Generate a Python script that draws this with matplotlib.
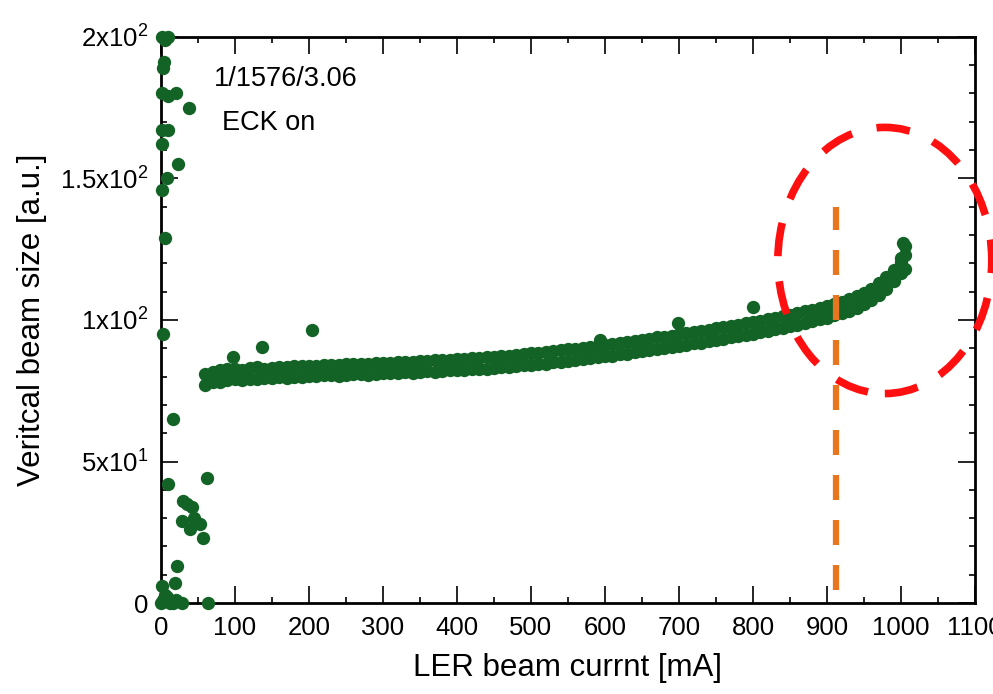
import matplotlib
matplotlib.use("Agg")
import matplotlib.pyplot as plt
from matplotlib.patches import Ellipse
from matplotlib.ticker import MultipleLocator, FixedLocator

plt.rcParams['font.family'] = ['Liberation Sans', 'DejaVu Sans']
plt.rcParams['mathtext.fontset'] = 'custom'
plt.rcParams['mathtext.rm'] = 'Liberation Sans'
plt.rcParams['mathtext.it'] = 'Liberation Sans:italic'

# main band of the beam size vs current (every 10 mA)
band_x = [60, 70, 80, 90, 100, 110, 120, 130, 140, 150,
          160, 170, 180, 190, 200, 210, 220, 230, 240, 250,
          260, 270, 280, 290, 300, 310, 320, 330, 340, 350,
          360, 370, 380, 390, 400, 410, 420, 430, 440, 450,
          460, 470, 480, 490, 500, 510, 520, 530, 540, 550,
          560, 570, 580, 590, 600, 610, 620, 630, 640, 650,
          660, 670, 680, 690, 700, 710, 720, 730, 740, 750,
          760, 770, 780, 790, 800, 810, 820, 830, 840, 850,
          860, 870, 880, 890, 900, 910, 920, 930, 940, 950,
          960, 970, 980, 990, 1000]
band_lo = [77.0, 78.0, 78.2, 78.8, 79.0, 78.9, 79.3, 79.0, 79.4, 79.6,
           79.7, 79.5, 79.9, 80.0, 80.2, 80.1, 80.4, 80.5, 80.3, 80.7,
           80.8, 80.9, 80.6, 81.0, 81.2, 81.1, 81.4, 81.5, 81.4, 81.7,
           81.8, 81.6, 82.0, 82.2, 82.3, 82.2, 82.6, 82.8, 82.7, 83.1,
           83.3, 83.4, 83.7, 84.0, 84.2, 84.5, 84.6, 85.0, 85.3, 85.5,
           85.9, 86.1, 86.5, 86.8, 87.2, 87.4, 87.8, 88.1, 88.5, 89.0,
           89.3, 89.8, 90.0, 90.5, 90.9, 91.2, 91.7, 92.0, 92.5, 93.0,
           93.3, 93.8, 94.2, 94.8, 95.2, 95.8, 96.2, 96.8, 97.2, 97.8,
           98.3, 99.0, 99.5, 100.2, 100.8, 101.6, 102.3, 103.3, 104.2, 105.5,
           106.9, 108.8, 110.9, 113.6, 116.4]
band_hi = [81.0, 81.6, 82.2, 82.5, 82.6, 82.4, 83.0, 83.3, 82.8, 83.2,
           83.4, 83.3, 83.6, 83.7, 83.9, 83.8, 84.1, 84.2, 84.0, 84.4,
           84.5, 84.6, 84.5, 84.8, 84.9, 84.8, 85.1, 85.2, 85.3, 85.4,
           85.5, 85.8, 85.8, 85.9, 86.1, 86.3, 86.4, 86.5, 86.9, 86.9,
           87.1, 87.4, 87.6, 87.8, 88.2, 88.4, 88.7, 88.9, 89.3, 89.6,
           89.8, 90.2, 90.5, 90.9, 91.2, 91.5, 91.8, 92.2, 92.6, 93.0,
           93.4, 93.8, 94.1, 94.5, 94.9, 95.3, 95.7, 96.1, 96.5, 97.0,
           97.4, 97.8, 98.3, 98.8, 99.3, 99.8, 100.3, 100.8, 101.3, 101.8,
           102.4, 103.0, 103.6, 104.2, 104.9, 105.6, 106.5, 107.4, 108.4, 109.6,
           111.1, 112.9, 115.1, 117.7, 120.6]

# scattered points (injection region and outliers)
scat_x = [5, 2, 10, 4, 3, 2, 10, 21, 38, 2, 9, 2, 23, 8, 2, 5, 3, 16, 10, 62,
          30, 42, 35, 28, 53, 39, 57, 45, 22, 19, 1, 3, 16, 28, 63, 8, 12, 20,
          0, 5, 97, 136, 204, 593, 699, 800, 1005, 1005, 1003, 1000, 1005]
scat_y = [199, 200, 200, 191, 189, 180, 179, 180, 175, 167, 167, 162, 155, 150,
          146, 129, 95, 65, 42, 44, 36, 34, 35, 29, 28, 26, 23, 30, 13, 7, 6, 1,
          0, 0, 0, 2, 0, 1, 0, 3, 87, 90.5, 96.5, 93, 99, 104.6, 123, 126, 127,
          122, 118]

x_ticks = [0, 100, 200, 300, 400, 500, 600, 700, 800, 900, 1000, 1100]
y_ticks = [0, 50, 100, 150, 200]
y_ticklabels = ['0', r'5x10$^{1}$', r'1x10$^{2}$', r'1.5x10$^{2}$', r'2x10$^{2}$']

vline_x = 912
vline_y = (4.6, 140)
circle_center = (978, 121)
circle_size = (289, 94)

green = '#146326'

fig = plt.figure(figsize=(9.93, 6.94), dpi=100)
ax = fig.add_axes([0.162, 0.131, 0.82, 0.816])

for yy in (band_lo, band_hi):
    ax.scatter(band_x, yy, s=92, color=green, lw=0, clip_on=False, zorder=3)
ax.scatter(scat_x, scat_y, s=92, color=green, lw=0, clip_on=False, zorder=3)

ax.plot([vline_x, vline_x], vline_y, color='#E8761E', lw=4.5,
        dashes=(4, 3.2), zorder=4)
ell = Ellipse(circle_center, circle_size[0], circle_size[1], fill=False,
              edgecolor='#FF1010', lw=5.5, linestyle=(0, (4.4, 3.3)),
              clip_on=False, zorder=5)
ax.add_patch(ell)

ax.set_xlim(0, 1100)
ax.set_ylim(0, 200)
ax.xaxis.set_major_locator(FixedLocator(x_ticks))
ax.xaxis.set_minor_locator(MultipleLocator(50))
ax.set_yticks(y_ticks)
ax.set_yticklabels(y_ticklabels)
ax.yaxis.set_minor_locator(MultipleLocator(10))

ax.tick_params(which='both', direction='in', top=True, right=True,
               labelsize=18.5, width=1.2)
ax.tick_params(which='major', length=12, pad=9)
ax.tick_params(which='minor', length=4)
for s in ax.spines.values():
    s.set_linewidth(2)

ax.set_xlabel('LER beam currnt [mA]', fontsize=22.5, labelpad=10)
ax.set_ylabel('Veritcal beam size [a.u.]', fontsize=22.5, labelpad=9)

ax.text(0.065, 0.925, '1/1576/3.06', transform=ax.transAxes, fontsize=19.5,
        va='center')
ax.text(0.075, 0.848, 'ECK on', transform=ax.transAxes, fontsize=19.5,
        va='center')

fig.savefig('out.png', dpi=100)
